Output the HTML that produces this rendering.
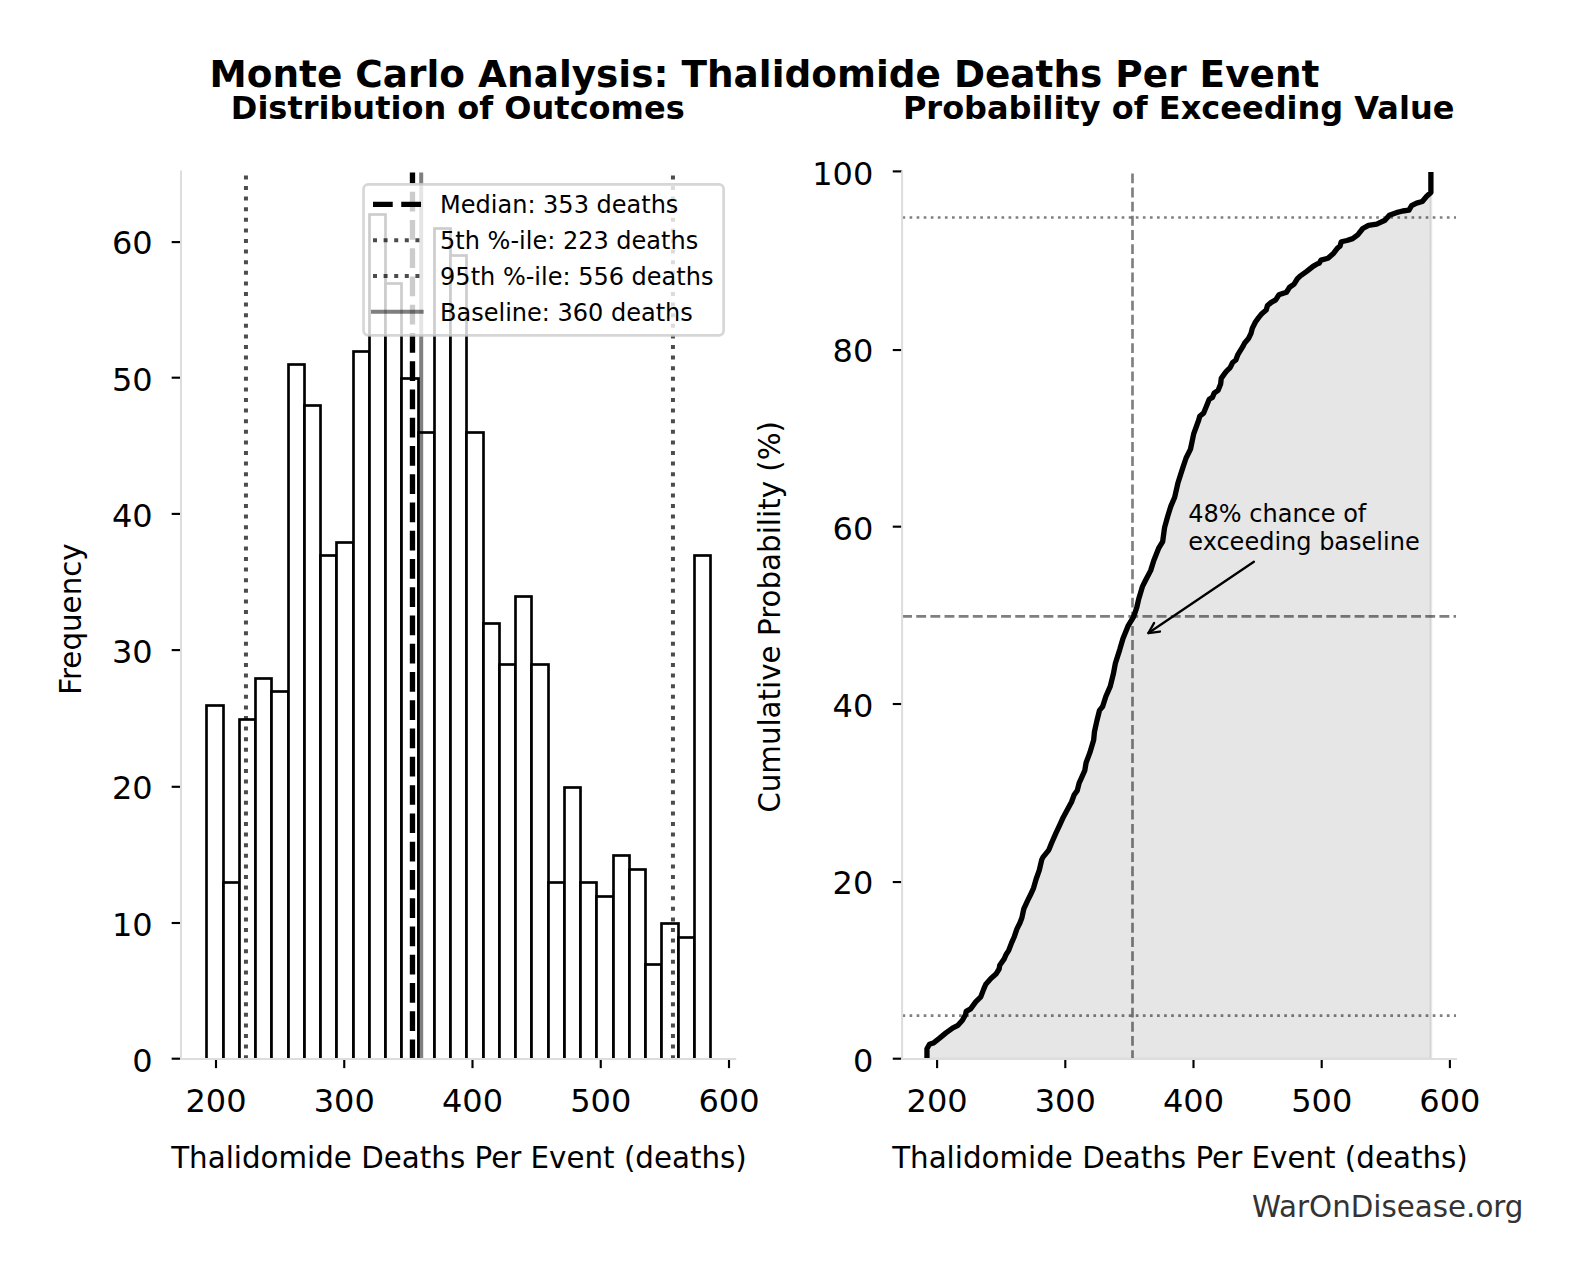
<!DOCTYPE html>
<html lang="en"><head><meta charset="utf-8"><title>Monte Carlo Analysis: Thalidomide Deaths Per Event</title>
<style>html,body{margin:0;padding:0;background:#fff}body{width:1580px;height:1280px;overflow:hidden}</style></head>
<body>
<svg width="1580" height="1280" viewBox="0 0 1580 1280" style="display:block;font-family:'DejaVu Sans', 'Liberation Sans', sans-serif">
<rect width="1580" height="1280" fill="#fff"/>
<defs><clipPath id="c1"><rect x="181.0" y="172.1" width="554.2" height="886.7"/></clipPath><clipPath id="c2"><rect x="902.1" y="172.1" width="553.9" height="887.1"/></clipPath></defs>
<g clip-path="url(#c1)" fill="#fff" stroke="#000" stroke-width="2.67" stroke-linejoin="miter">
<rect x="206.50" y="705.50" width="17.00" height="354.00"/>
<rect x="223.50" y="882.50" width="16.00" height="177.00"/>
<rect x="239.50" y="719.50" width="16.00" height="340.00"/>
<rect x="255.50" y="678.50" width="16.00" height="381.00"/>
<rect x="271.50" y="691.50" width="17.00" height="368.00"/>
<rect x="288.50" y="364.50" width="16.00" height="695.00"/>
<rect x="304.50" y="405.50" width="16.00" height="654.00"/>
<rect x="320.50" y="555.50" width="16.00" height="504.00"/>
<rect x="336.50" y="542.50" width="17.00" height="517.00"/>
<rect x="353.50" y="351.50" width="16.00" height="708.00"/>
<rect x="369.50" y="214.50" width="16.00" height="845.00"/>
<rect x="385.50" y="283.50" width="16.00" height="776.00"/>
<rect x="401.50" y="378.50" width="17.00" height="681.00"/>
<rect x="418.50" y="432.50" width="16.00" height="627.00"/>
<rect x="434.50" y="228.50" width="16.00" height="831.00"/>
<rect x="450.50" y="255.50" width="16.00" height="804.00"/>
<rect x="466.50" y="432.50" width="17.00" height="627.00"/>
<rect x="483.50" y="623.50" width="16.00" height="436.00"/>
<rect x="499.50" y="664.50" width="16.00" height="395.00"/>
<rect x="515.50" y="596.50" width="16.00" height="463.00"/>
<rect x="531.50" y="664.50" width="17.00" height="395.00"/>
<rect x="548.50" y="882.50" width="16.00" height="177.00"/>
<rect x="564.50" y="787.50" width="16.00" height="272.00"/>
<rect x="580.50" y="882.50" width="16.00" height="177.00"/>
<rect x="596.50" y="896.50" width="17.00" height="163.00"/>
<rect x="613.50" y="855.50" width="16.00" height="204.00"/>
<rect x="629.50" y="869.50" width="16.00" height="190.00"/>
<rect x="645.50" y="964.50" width="16.00" height="95.00"/>
<rect x="661.50" y="923.50" width="17.00" height="136.00"/>
<rect x="678.50" y="937.50" width="16.00" height="122.00"/>
<rect x="694.50" y="555.50" width="16.00" height="504.00"/>
</g>
<g clip-path="url(#c1)" fill="none">
<line x1="412.48" x2="412.48" y1="1059.2" y2="172.5" stroke="#000" stroke-width="5.33" stroke-dasharray="19.73 8.53"/>
<line x1="245.95" x2="245.95" y1="1059.2" y2="172.5" stroke="#000" stroke-opacity="0.7" stroke-width="4.00" stroke-dasharray="4.00 6.60"/>
<line x1="672.95" x2="672.95" y1="1059.2" y2="172.5" stroke="#000" stroke-opacity="0.7" stroke-width="4.00" stroke-dasharray="4.00 6.60"/>
<line x1="421.20" x2="421.20" y1="1059.2" y2="172.5" stroke="#000" stroke-opacity="0.5" stroke-width="4.00"/>
</g>
<g stroke="#000" stroke-width="2.13">
<line x1="216.00" x2="216.00" y1="1059.20" y2="1068.13"/>
<line x1="344.25" x2="344.25" y1="1059.20" y2="1068.13"/>
<line x1="472.50" x2="472.50" y1="1059.20" y2="1068.13"/>
<line x1="600.75" x2="600.75" y1="1059.20" y2="1068.13"/>
<line x1="729.00" x2="729.00" y1="1059.20" y2="1068.13"/>
<line x1="181.00" x2="171.67" y1="1058.70" y2="1058.70"/>
<line x1="181.00" x2="171.67" y1="923.00" y2="923.00"/>
<line x1="181.00" x2="171.67" y1="786.80" y2="786.80"/>
<line x1="181.00" x2="171.67" y1="650.10" y2="650.10"/>
<line x1="181.00" x2="171.67" y1="513.90" y2="513.90"/>
<line x1="181.00" x2="171.67" y1="377.70" y2="377.70"/>
<line x1="181.00" x2="171.67" y1="242.10" y2="242.10"/>
</g>
<g stroke="#ddd" stroke-width="2.0" fill="none" stroke-linecap="square"><line x1="181.0" x2="181.0" y1="171.5" y2="1058.9"/><line x1="181.0" x2="735.2" y1="1058.9" y2="1058.9"/></g>
<g font-size="32.00" fill="#000">
<text x="216.00" y="1112.4" text-anchor="middle">200</text>
<text x="344.25" y="1112.4" text-anchor="middle">300</text>
<text x="472.50" y="1112.4" text-anchor="middle">400</text>
<text x="600.75" y="1112.4" text-anchor="middle">500</text>
<text x="729.00" y="1112.4" text-anchor="middle">600</text>
<text x="152.60" y="1072.10" text-anchor="end">0</text>
<text x="152.60" y="935.90" text-anchor="end">10</text>
<text x="152.60" y="798.80" text-anchor="end">20</text>
<text x="152.60" y="662.60" text-anchor="end">30</text>
<text x="152.60" y="527.00" text-anchor="end">40</text>
<text x="152.60" y="390.80" text-anchor="end">50</text>
<text x="152.60" y="253.90" text-anchor="end">60</text>
</g>
<rect x="363.55" y="184.4" width="360.1" height="151.0" rx="4.8" ry="4.8" fill="#fff" fill-opacity="0.8" stroke="#ccc" stroke-opacity="0.8" stroke-width="2.67"/>
<line x1="373.0" x2="421.6" y1="204.4" y2="204.4" stroke="#000" stroke-width="5.33" stroke-dasharray="19.73 8.53"/>
<line x1="373.0" x2="421.6" y1="240.2" y2="240.2" stroke="#000" stroke-opacity="0.7" stroke-width="4.00" stroke-dasharray="4.00 6.60"/>
<line x1="373.0" x2="421.6" y1="276.0" y2="276.0" stroke="#000" stroke-opacity="0.7" stroke-width="4.00" stroke-dasharray="4.00 6.60"/>
<line x1="373.0" x2="421.6" y1="311.8" y2="311.8" stroke="#000" stroke-opacity="0.5" stroke-width="4.00" stroke-linecap="square"/>
<g font-size="24.00" fill="#000">
<text x="440.1" y="213.10">Median: 353 deaths</text>
<text x="440.1" y="248.90">5th %-ile: 223 deaths</text>
<text x="440.1" y="284.70">95th %-ile: 556 deaths</text>
<text x="440.1" y="320.50">Baseline: 360 deaths</text>
</g>
<text x="764.5" y="86.5" font-size="37.41" font-weight="bold" text-anchor="middle">Monte Carlo Analysis: Thalidomide Deaths Per Event</text>
<text x="457.75" y="119.0" font-size="32.00" font-weight="bold" text-anchor="middle">Distribution of Outcomes</text>
<text x="1178.65" y="119.0" font-size="32.00" font-weight="bold" text-anchor="middle">Probability of Exceeding Value</text>
<text x="459.00" y="1168.3" font-size="29.33" text-anchor="middle">Thalidomide Deaths Per Event (deaths)</text>
<text x="1179.95" y="1168.3" font-size="29.33" text-anchor="middle">Thalidomide Deaths Per Event (deaths)</text>
<text transform="translate(81.2 619.05) rotate(-90)" font-size="29.33" text-anchor="middle">Frequency</text>
<text transform="translate(780.1 616.85) rotate(-90)" font-size="29.33" text-anchor="middle">Cumulative Probability (%)</text>
<text x="1523.5" y="1216.5" font-size="29.33" fill="#333" text-anchor="end">WarOnDisease.org</text>
<g clip-path="url(#c2)">
<path d="M926.96 1059.20 L926.96 1048.73 L929.49 1044.30 L933.29 1043.04 L938.99 1038.61 L945.95 1032.91 L952.91 1027.85 L957.97 1025.32 L962.41 1020.25 L965.57 1014.56 L966.20 1011.39 L970.63 1008.86 L975.70 1001.90 L980.76 996.84 L983.92 988.61 L985.82 984.18 L990.89 978.48 L995.95 974.05 L999.11 968.99 L999.75 965.19 L1004.18 958.86 L1006.08 954.43 L1008.61 950.63 L1011.77 942.41 L1014.30 936.71 L1016.84 929.11 L1020.00 922.78 L1021.90 917.72 L1023.80 908.86 L1027.59 900.63 L1030.38 895.06 L1033.54 888.10 L1036.08 879.24 L1039.24 870.38 L1041.77 859.62 L1043.04 857.09 L1048.73 850.13 L1051.27 843.80 L1055.70 833.67 L1060.13 824.18 L1063.29 817.22 L1067.72 808.99 L1071.52 802.03 L1074.05 795.06 L1077.22 790.63 L1079.11 783.04 L1082.28 776.08 L1084.81 770.38 L1086.08 762.78 L1089.87 752.66 L1093.67 740.00 L1094.43 731.90 L1096.96 720.51 L1099.49 710.38 L1102.66 706.58 L1105.82 696.46 L1110.25 686.33 L1113.42 673.67 L1115.32 663.54 L1119.75 649.62 L1122.91 638.86 L1127.97 626.20 L1133.67 616.71 L1136.84 607.22 L1138.73 598.99 L1142.53 586.33 L1145.70 580.00 L1150.63 570.63 L1153.80 560.51 L1158.86 547.85 L1162.66 541.52 L1164.56 527.59 L1167.72 516.20 L1170.89 506.08 L1174.68 497.22 L1177.85 483.29 L1182.28 469.37 L1186.08 457.97 L1190.51 449.11 L1193.67 433.92 L1198.73 420.00 L1199.75 416.33 L1203.54 413.16 L1206.71 405.57 L1209.24 399.24 L1212.41 397.34 L1214.30 392.91 L1218.10 390.38 L1220.63 384.05 L1221.27 378.35 L1224.43 373.92 L1226.33 371.39 L1230.13 367.59 L1232.66 362.53 L1235.82 360.00 L1237.72 354.94 L1242.78 346.71 L1244.68 342.91 L1248.48 338.48 L1251.01 333.42 L1252.28 328.35 L1255.44 322.03 L1258.61 317.59 L1261.77 313.80 L1266.20 310.00 L1267.47 305.57 L1271.27 302.41 L1275.70 299.87 L1278.86 294.81 L1282.66 293.54 L1286.46 292.28 L1289.62 287.22 L1294.05 284.05 L1297.22 278.99 L1300.38 275.82 L1306.71 271.39 L1313.04 266.33 L1317.47 263.80 L1319.11 263.29 L1321.01 260.13 L1327.97 258.23 L1333.67 253.16 L1337.47 248.10 L1340.00 246.20 L1341.27 241.77 L1346.96 240.51 L1352.66 238.61 L1357.72 234.81 L1362.78 228.48 L1368.48 225.32 L1376.71 224.05 L1384.94 220.25 L1389.37 215.19 L1396.33 212.66 L1402.66 211.01 L1408.99 210.13 L1411.52 205.70 L1416.58 203.16 L1422.28 201.52 L1426.71 196.20 L1430.89 192.41 L1430.89 170.25 L1430.89 1059.2 L926.96 1059.2 Z" fill="#808080" fill-opacity="0.2" stroke="#808080" stroke-opacity="0.2" stroke-width="2.67"/>
<line x1="902.1" x2="1456.8" y1="616.35" y2="616.35" stroke="#000" stroke-opacity="0.5" stroke-width="2.67" stroke-dasharray="9.87 4.27"/>
<line x1="1132.5" x2="1132.5" y1="1060.0" y2="172.5" stroke="#000" stroke-opacity="0.5" stroke-width="2.67" stroke-dasharray="9.87 4.27"/>
<line x1="902.5" x2="1456.8" y1="1015.57" y2="1015.57" stroke="#000" stroke-opacity="0.5" stroke-width="2.67" stroke-dasharray="2.67 4.40"/>
<line x1="902.5" x2="1456.8" y1="217.53" y2="217.53" stroke="#000" stroke-opacity="0.5" stroke-width="2.67" stroke-dasharray="2.67 4.40"/>
<path d="M926.96 1059.20 L926.96 1048.73 L929.49 1044.30 L933.29 1043.04 L938.99 1038.61 L945.95 1032.91 L952.91 1027.85 L957.97 1025.32 L962.41 1020.25 L965.57 1014.56 L966.20 1011.39 L970.63 1008.86 L975.70 1001.90 L980.76 996.84 L983.92 988.61 L985.82 984.18 L990.89 978.48 L995.95 974.05 L999.11 968.99 L999.75 965.19 L1004.18 958.86 L1006.08 954.43 L1008.61 950.63 L1011.77 942.41 L1014.30 936.71 L1016.84 929.11 L1020.00 922.78 L1021.90 917.72 L1023.80 908.86 L1027.59 900.63 L1030.38 895.06 L1033.54 888.10 L1036.08 879.24 L1039.24 870.38 L1041.77 859.62 L1043.04 857.09 L1048.73 850.13 L1051.27 843.80 L1055.70 833.67 L1060.13 824.18 L1063.29 817.22 L1067.72 808.99 L1071.52 802.03 L1074.05 795.06 L1077.22 790.63 L1079.11 783.04 L1082.28 776.08 L1084.81 770.38 L1086.08 762.78 L1089.87 752.66 L1093.67 740.00 L1094.43 731.90 L1096.96 720.51 L1099.49 710.38 L1102.66 706.58 L1105.82 696.46 L1110.25 686.33 L1113.42 673.67 L1115.32 663.54 L1119.75 649.62 L1122.91 638.86 L1127.97 626.20 L1133.67 616.71 L1136.84 607.22 L1138.73 598.99 L1142.53 586.33 L1145.70 580.00 L1150.63 570.63 L1153.80 560.51 L1158.86 547.85 L1162.66 541.52 L1164.56 527.59 L1167.72 516.20 L1170.89 506.08 L1174.68 497.22 L1177.85 483.29 L1182.28 469.37 L1186.08 457.97 L1190.51 449.11 L1193.67 433.92 L1198.73 420.00 L1199.75 416.33 L1203.54 413.16 L1206.71 405.57 L1209.24 399.24 L1212.41 397.34 L1214.30 392.91 L1218.10 390.38 L1220.63 384.05 L1221.27 378.35 L1224.43 373.92 L1226.33 371.39 L1230.13 367.59 L1232.66 362.53 L1235.82 360.00 L1237.72 354.94 L1242.78 346.71 L1244.68 342.91 L1248.48 338.48 L1251.01 333.42 L1252.28 328.35 L1255.44 322.03 L1258.61 317.59 L1261.77 313.80 L1266.20 310.00 L1267.47 305.57 L1271.27 302.41 L1275.70 299.87 L1278.86 294.81 L1282.66 293.54 L1286.46 292.28 L1289.62 287.22 L1294.05 284.05 L1297.22 278.99 L1300.38 275.82 L1306.71 271.39 L1313.04 266.33 L1317.47 263.80 L1319.11 263.29 L1321.01 260.13 L1327.97 258.23 L1333.67 253.16 L1337.47 248.10 L1340.00 246.20 L1341.27 241.77 L1346.96 240.51 L1352.66 238.61 L1357.72 234.81 L1362.78 228.48 L1368.48 225.32 L1376.71 224.05 L1384.94 220.25 L1389.37 215.19 L1396.33 212.66 L1402.66 211.01 L1408.99 210.13 L1411.52 205.70 L1416.58 203.16 L1422.28 201.52 L1426.71 196.20 L1430.89 192.41 L1430.89 170.25" fill="none" stroke="#000" stroke-width="5.33" stroke-linejoin="round" stroke-linecap="butt"/>
</g>
<g stroke="#000" stroke-width="2.13">
<line x1="937.10" x2="937.10" y1="1059.20" y2="1068.13"/>
<line x1="1065.30" x2="1065.30" y1="1059.20" y2="1068.13"/>
<line x1="1193.50" x2="1193.50" y1="1059.20" y2="1068.13"/>
<line x1="1321.70" x2="1321.70" y1="1059.20" y2="1068.13"/>
<line x1="1449.90" x2="1449.90" y1="1059.20" y2="1068.13"/>
<line x1="902.10" x2="892.77" y1="1058.70" y2="1058.70"/>
<line x1="902.10" x2="892.77" y1="882.06" y2="882.06"/>
<line x1="902.10" x2="892.77" y1="704.02" y2="704.02"/>
<line x1="902.10" x2="892.77" y1="526.68" y2="526.68"/>
<line x1="902.10" x2="892.77" y1="350.04" y2="350.04"/>
<line x1="902.10" x2="892.77" y1="171.40" y2="171.40"/>
</g>
<g stroke="#ddd" stroke-width="2.0" fill="none" stroke-linecap="square"><line x1="902.1" x2="902.1" y1="171.5" y2="1058.9"/><line x1="902.1" x2="1456.0" y1="1058.9" y2="1058.9"/></g>
<g font-size="32.00" fill="#000">
<text x="937.10" y="1112.4" text-anchor="middle">200</text>
<text x="1065.30" y="1112.4" text-anchor="middle">300</text>
<text x="1193.50" y="1112.4" text-anchor="middle">400</text>
<text x="1321.70" y="1112.4" text-anchor="middle">500</text>
<text x="1449.90" y="1112.4" text-anchor="middle">600</text>
<text x="873.25" y="1072.10" text-anchor="end">0</text>
<text x="873.25" y="893.86" text-anchor="end">20</text>
<text x="873.25" y="717.42" text-anchor="end">40</text>
<text x="873.25" y="540.08" text-anchor="end">60</text>
<text x="873.25" y="361.84" text-anchor="end">80</text>
<text x="873.25" y="185.40" text-anchor="end">100</text>
</g>
<g font-size="24.00" fill="#000"><text x="1188.3" y="521.8">48% chance of</text><text x="1188.3" y="549.6">exceeding baseline</text></g>
<g fill="none" stroke="#000" stroke-width="2.3" stroke-linecap="round" stroke-linejoin="round"><path d="M1253.9 561.7 L1148.43 633.04"/><path d="M1159.96 631.52 L1148.43 633.04 L1154.13 622.91"/></g>
</svg>
</body></html>
